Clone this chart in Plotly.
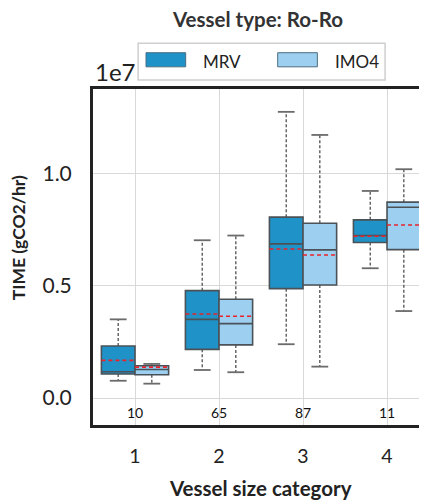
import plotly.graph_objects as go

# vessel size categories and sample counts
categories = [1, 2, 3, 4]
counts = [10, 65, 87, 11]

# box statistics, in units of 1e7 gCO2/hr
mrv_lower = [0.077, 0.125, 0.240, 0.579]
mrv_q1 = [0.107, 0.217, 0.488, 0.694]
mrv_median = [0.117, 0.351, 0.688, 0.725]
mrv_q3 = [0.232, 0.479, 0.807, 0.795]
mrv_upper = [0.351, 0.704, 1.277, 0.924]
mrv_mean = [0.168, 0.375, 0.665, 0.722]

imo_lower = [0.064, 0.115, 0.140, 0.388]
imo_q1 = [0.104, 0.237, 0.504, 0.662]
imo_median = [0.127, 0.332, 0.661, 0.851]
imo_q3 = [0.144, 0.441, 0.780, 0.874]
imo_upper = [0.152, 0.725, 1.174, 1.021]
imo_mean = [0.138, 0.365, 0.638, 0.772]

SCALE = 1e7
FONT = "Lato"
EDGE = "#4b5257"
BOX_W = 0.4

series = [
    ("MRV", "#1F93C8", -0.2, mrv_lower, mrv_q1, mrv_median, mrv_q3, mrv_upper, mrv_mean),
    ("IMO4", "#9DD0F0", 0.2, imo_lower, imo_q1, imo_median, imo_q3, imo_upper, imo_mean),
]

fig = go.Figure()


def seg(xs0, xs1, ys0, ys1):
    x, y = [], []
    for a, b, c, d in zip(xs0, xs1, ys0, ys1):
        x += [a, b, None]
        y += [c * SCALE, d * SCALE, None]
    return x, y


for name, color, off, lo, q1, med, q3, up, mean in series:
    pos = [c + off for c in categories]
    # dashed whiskers
    wx, wy = seg(pos + pos, pos + pos, q3 + q1, up + lo)
    fig.add_trace(go.Scatter(x=wx, y=wy, mode="lines", showlegend=False, hoverinfo="skip",
                             line=dict(color="#505050", width=1.3, dash="3px,2px")))
    # caps
    left = [p - BOX_W / 4 for p in pos]
    right = [p + BOX_W / 4 for p in pos]
    cx, cy = seg(left + left, right + right, up + lo, up + lo)
    fig.add_trace(go.Scatter(x=cx, y=cy, mode="lines", showlegend=False, hoverinfo="skip",
                             line=dict(color="#6b6b6b", width=1.8)))
    # boxes
    fig.add_trace(go.Box(
        name=name, x=pos,
        q1=[v * SCALE for v in q1], median=[v * SCALE for v in med], q3=[v * SCALE for v in q3],
        lowerfence=[v * SCALE for v in q1], upperfence=[v * SCALE for v in q3],
        width=BOX_W, fillcolor=color, line=dict(color=EDGE, width=1.6),
        whiskerwidth=0, showlegend=False, hoverinfo="skip",
    ))

for name, color, off, lo, q1, med, q3, up, mean in series:
    pos = [c + off for c in categories]
    mx, my = seg([p - BOX_W / 2 for p in pos], [p + BOX_W / 2 for p in pos], mean, mean)
    fig.add_trace(go.Scatter(x=mx, y=my, mode="lines", showlegend=False, hoverinfo="skip",
                             line=dict(color="#E8232B", width=1.6, dash="4px,3px")))

# sample counts under each group
for c, n in zip(categories, counts):
    fig.add_annotation(x=c, y=-0.0625 * SCALE, text=str(n), showarrow=False, yanchor="middle",
                       font=dict(size=14, color="#111111", family=FONT))

# legend drawn as a framed box with wide colour patches
fig.add_shape(type="rect", xref="paper", yref="paper", x0=0.132, x1=0.854, y0=1.027, y1=1.136,
              line=dict(color="#cfcfcf", width=1.5), fillcolor="white")
for (name, color, *_), px0 in zip(series, [0.155, 0.540]):
    fig.add_shape(type="rect", xref="paper", yref="paper", x0=px0, x1=px0 + 0.116,
                  y0=1.066, y1=1.108, fillcolor=color, line=dict(color="#4b6d80", width=1))
    fig.add_annotation(xref="paper", yref="paper", x=px0 + 0.161, y=1.083, text=name,
                       showarrow=False, xanchor="left", yanchor="middle",
                       font=dict(size=17, color="#222222", family=FONT))

fig.add_annotation(xref="paper", yref="paper", x=0.0, y=1.052, text="1e7", showarrow=False,
                   xanchor="left", yanchor="middle", font=dict(size=24, color="#222222", family=FONT))
fig.add_annotation(xref="paper", yref="paper", x=-0.219, y=0.556, text="<b>TIME (gCO2/hr)</b>",
                   showarrow=False, textangle=-90, xanchor="center", yanchor="middle",
                   font=dict(size=17.5, color="#222222", family=FONT))
fig.add_annotation(xref="paper", yref="paper", x=0.491, y=-0.1875, text="<b>Vessel size category</b>",
                   showarrow=False, xanchor="center", yanchor="middle",
                   font=dict(size=20.5, color="#222222", family=FONT))

fig.update_layout(
    width=427, height=502,
    title=dict(text="<b>Vessel type: Ro-Ro</b>", xref="container", yref="container",
               x=0.5855, xanchor="center", y=0.976, yanchor="middle",
               font=dict(size=20.5, color="#333333", family=FONT)),
    font=dict(family=FONT, size=16, color="#222222"),
    paper_bgcolor="white", plot_bgcolor="white",
    margin=dict(l=85, r=0, t=81, b=85),
    boxmode="overlay",
    showlegend=False,
)
fig.update_xaxes(
    range=[0.5, 4.571], tickvals=categories, ticktext=[str(c) for c in categories],
    showgrid=True, gridcolor="#d9d9d9", gridwidth=1.2, zeroline=False,
    showline=True, linecolor="#222222", linewidth=3, mirror=True,
    ticks="", ticklabelstandoff=12, tickfont=dict(size=19.5, color="#222222"),
)
fig.update_yaxes(
    range=[-0.1205 * SCALE, 1.379 * SCALE], tickvals=[0, 0.5 * SCALE, 1.0 * SCALE],
    ticktext=["0.0", "0.5", "1.0"],
    showgrid=True, gridcolor="#d9d9d9", gridwidth=1.2, zeroline=False,
    showline=True, linecolor="#222222", linewidth=3, mirror=False,
    ticks="", ticklabelstandoff=14, tickfont=dict(size=21, color="#222222"),
)

fig.write_html("out.html")
